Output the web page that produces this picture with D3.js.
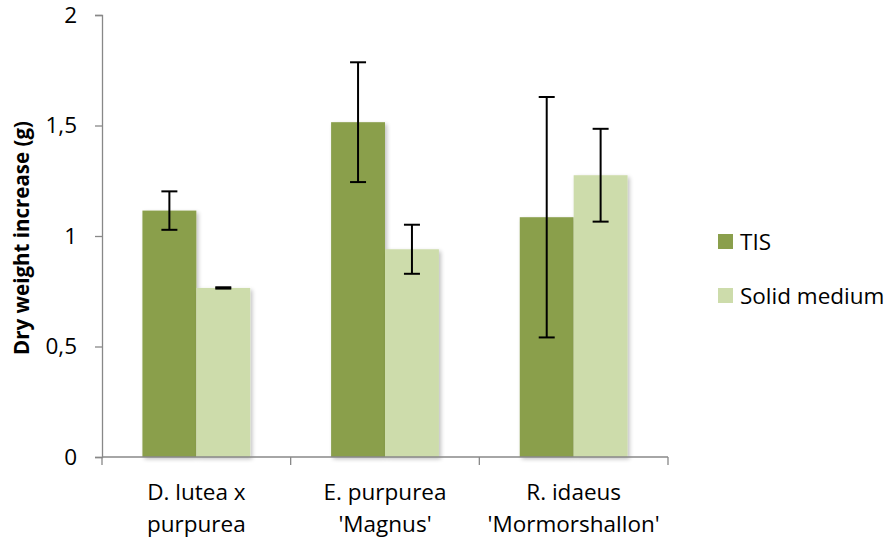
<!DOCTYPE html>
<html><head><meta charset="utf-8">
<script src="https://cdn.jsdelivr.net/npm/d3@7"></script>
<style>body{margin:0;background:#fff}svg{display:block;font-family:"Open Sans",sans-serif}</style>
</head><body><svg id="c" width="888" height="541"></svg>
<script>
const categories = [["D. lutea x","purpurea"],["E. purpurea","'Magnus'"],["R. idaeus","'Mormorshallon'"]];
const seriesNames = ["TIS","Solid medium"];
const tisValues = [1.115, 1.515, 1.085];
const tisErrors = [0.087, 0.271, 0.544];
const solidValues = [0.765, 0.94, 1.275];
const solidErrors = [0.003, 0.111, 0.21];
const yTicks = [0, 0.5, 1, 1.5, 2];
const colors = ["#8A9F4C", "#CDDCAB"];
const FS = 22.5;

const svg = d3.select("#c");
const x0 = d3.scaleBand().domain(d3.range(categories.length)).range([102, 668]).paddingInner(0).paddingOuter(0);
const y = d3.scaleLinear().domain([0, 2]).range([457, 15]);
const x1 = d3.scaleBand().domain([0,1]).range([0, x0.bandwidth()]).paddingInner(0).paddingOuter(0.75);

const defs = svg.append("defs");
const f = defs.append("filter").attr("id","sh").attr("x","-20%").attr("y","-20%").attr("width","140%").attr("height","140%");
f.append("feGaussianBlur").attr("in","SourceAlpha").attr("stdDeviation",2).attr("result","b");
f.append("feOffset").attr("in","b").attr("dx",1.5).attr("dy",1.5).attr("result","o");
f.append("feComponentTransfer").attr("in","o").attr("result","o2").append("feFuncA").attr("type","linear").attr("slope",0.25);
const m = f.append("feMerge"); m.append("feMergeNode").attr("in","o2"); m.append("feMergeNode").attr("in","SourceGraphic");

const series = [
  {vals: tisValues, errs: tisErrors},
  {vals: solidValues, errs: solidErrors}
];

const g = svg.append("g");
series.forEach((s, si) => {
  g.selectAll(".bar"+si).data(s.vals).enter().append("rect")
    .attr("x", (d,i) => x0(i) + x1(si))
    .attr("width", x1.bandwidth())
    .attr("y", d => y(d))
    .attr("height", d => y(0) - y(d))
    .attr("fill", colors[si])
    .attr("filter","url(#sh)");
});

// axes
const yAxis = d3.axisLeft(y).tickValues(yTicks).tickSize(7).tickPadding(18)
  .tickFormat(d => String(d).replace(".", ","));
const ya = svg.append("g").attr("transform","translate(102,0)").call(yAxis);
ya.select(".domain").attr("stroke","#888").attr("stroke-width",1.3);
ya.selectAll(".tick line").attr("stroke","#888").attr("stroke-width",1.3);
ya.selectAll(".tick text").attr("font-size",FS).attr("fill","#000").attr("font-family","'Open Sans',sans-serif");

const xb = svg.append("g");
xb.append("line").attr("x1",x0.range()[0]).attr("x2",x0.range()[1]).attr("y1",y(0)).attr("y2",y(0)).attr("stroke","#888").attr("stroke-width",1.3);
const bounds = d3.range(categories.length+1).map(i => x0.range()[0] + i*x0.bandwidth());
xb.selectAll(".xt").data(bounds).enter().append("line")
  .attr("x1", d=>d).attr("x2", d=>d).attr("y1", y(0)).attr("y2", y(0)+8)
  .attr("stroke","#888").attr("stroke-width",1.3);
xb.selectAll(".xl").data(categories).enter().append("text")
  .attr("text-anchor","middle").attr("font-size",FS).attr("fill","#000")
  .attr("transform",(d,i)=>`translate(${x0(i)+x0.bandwidth()/2},0)`)
  .each(function(d){
    d3.select(this).selectAll("tspan").data(d).enter().append("tspan")
      .attr("x",0).attr("y",(t,j)=>500+j*32).text(t=>t);
  });

// error bars
series.forEach((s, si) => {
  s.vals.forEach((v, i) => {
    const cx = x0(i) + x1(si) + x1.bandwidth()/2;
    const e = s.errs[i];
    const eg = svg.append("g").attr("stroke","#000").attr("stroke-width",2);
    eg.append("line").attr("x1",cx).attr("x2",cx).attr("y1",y(v+e)).attr("y2",y(v-e));
    eg.append("line").attr("x1",cx-8).attr("x2",cx+8).attr("y1",y(v+e)).attr("y2",y(v+e));
    eg.append("line").attr("x1",cx-8).attr("x2",cx+8).attr("y1",y(v-e)).attr("y2",y(v-e));
  });
});

// y title
svg.append("text").attr("transform","translate(29,238) rotate(-90)")
  .attr("text-anchor","middle").attr("font-size",20.5).attr("font-weight","bold")
  .text("Dry weight increase (g)");

// legend
const lg = svg.append("g");
seriesNames.forEach((n, i) => {
  const yy = 234 + i*54;
  lg.append("rect").attr("x",718).attr("y",yy).attr("width",15).attr("height",15).attr("fill",colors[i]);
  lg.append("text").attr("x",740).attr("y",yy+16).attr("font-size",FS).text(n);
});
</script></body></html>
